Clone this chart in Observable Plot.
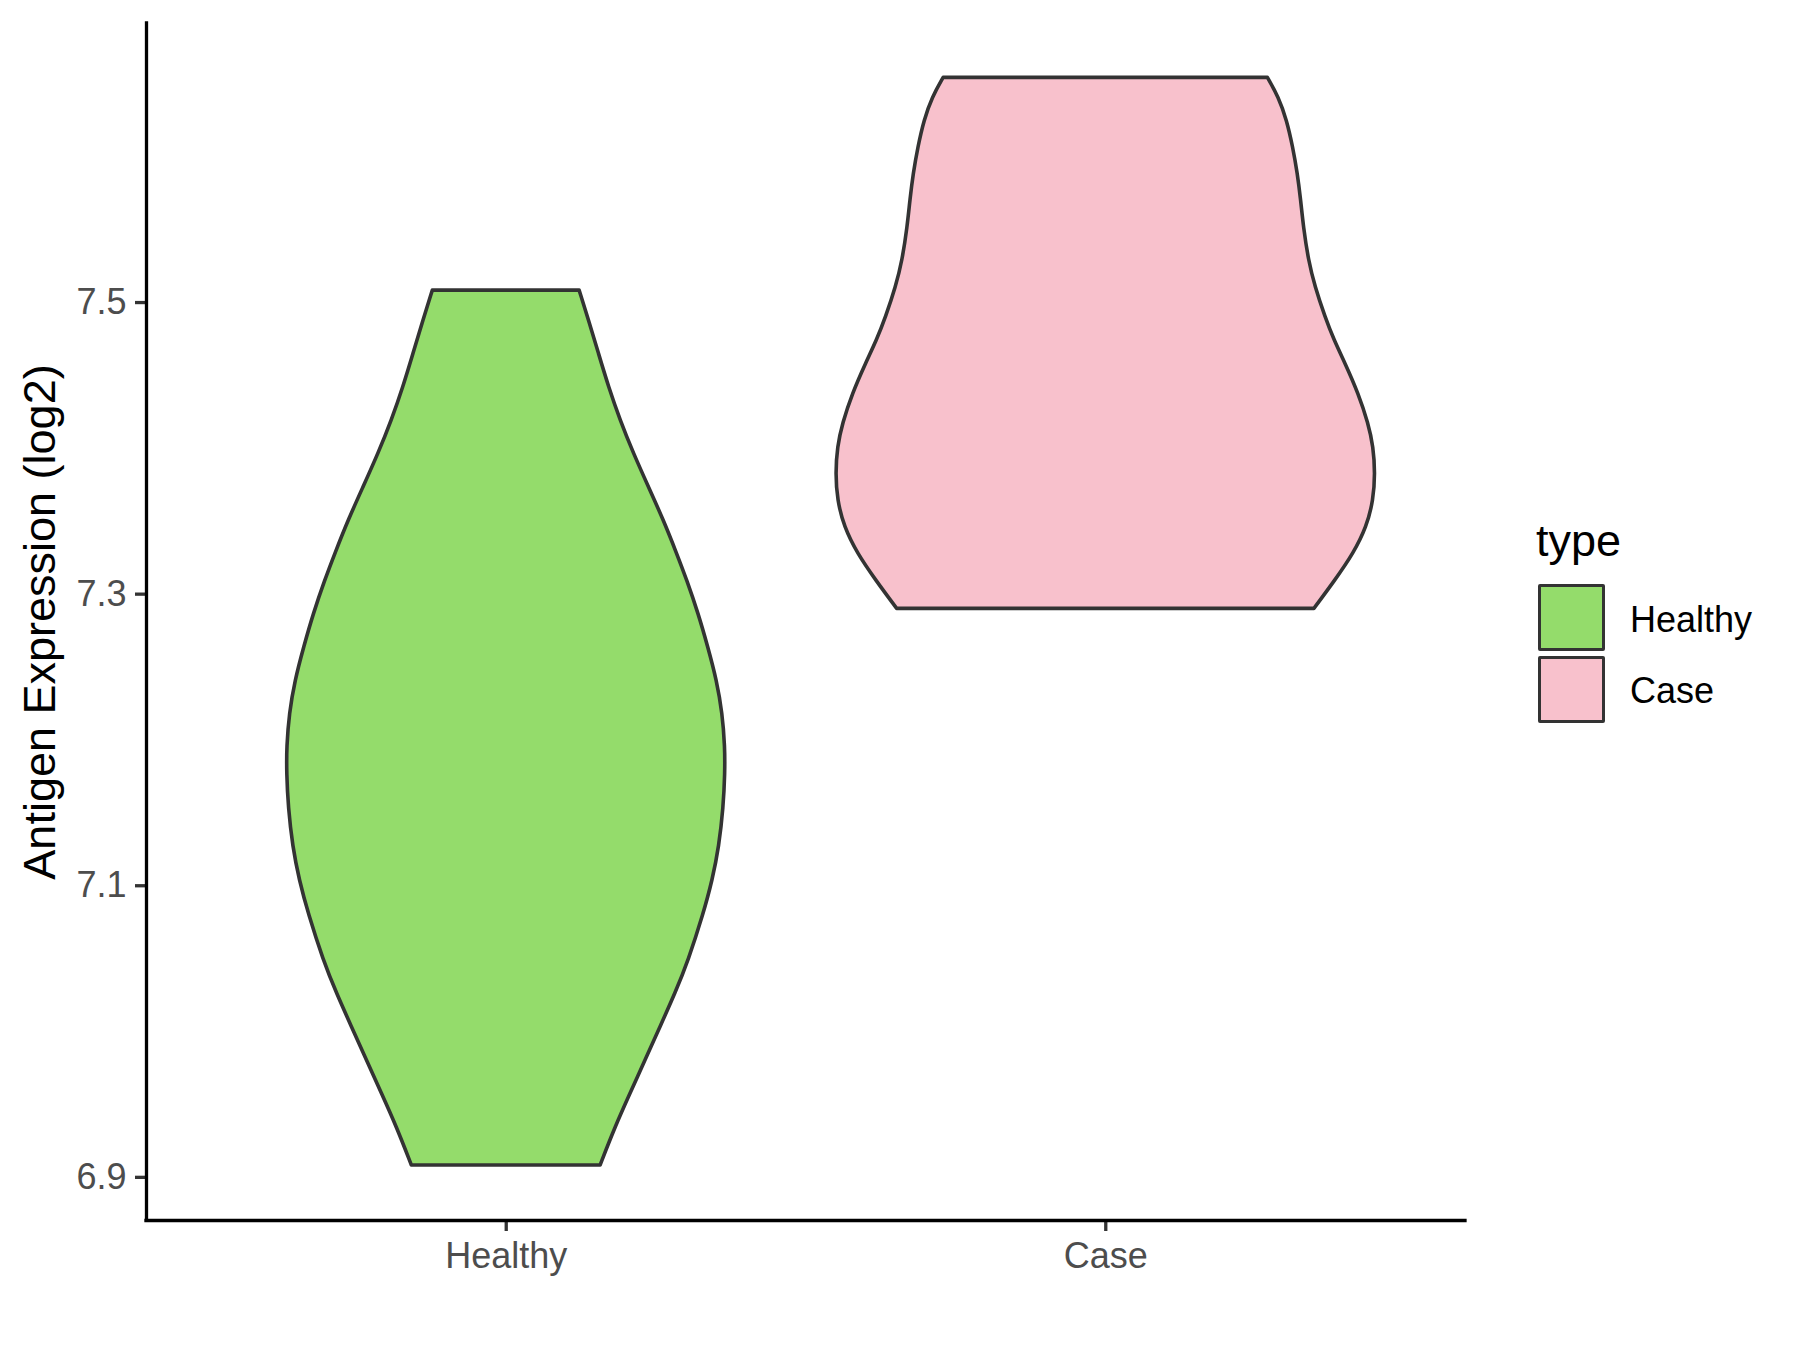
<!DOCTYPE html>
<html>
<head>
<meta charset="utf-8">
<script src="https://cdn.jsdelivr.net/npm/d3@7"></script>
<script src="https://cdn.jsdelivr.net/npm/@observablehq/plot@0.6"></script>
<style>
  body { margin: 0; background: #fff; }
  #wrap { position: relative; width: 1800px; height: 1350px; font-family: "Liberation Sans", Arial, sans-serif; }
  #wrap svg g[aria-label="y-axis tick label"] text,
  #wrap svg g[aria-label="x-axis tick label"] text { fill: #4d4d4d; }
  #wrap svg g[aria-label="y-axis tick"] path,
  #wrap svg g[aria-label="x-axis tick"] path { stroke: #333333; }
  .lg { position: absolute; line-height: 1; white-space: nowrap; }
  .key { position: absolute; width: 67px; height: 67px; box-sizing: border-box; border: 3.5px solid #333333; border-radius: 2px; }
</style>
</head>
<body>
<div id="wrap"></div>
<script>
// ---- data ----
const categories = ["Healthy", "Case"];
const colors = ["#94DC6B", "#F8C1CC"];
const yTicks = [6.9, 7.1, 7.3, 7.5];
const yTitle = "Antigen Expression (log2)";
const legendTitle = "type";

// violin outline: value (log2) and half-width (in category units)
const healthyValue = [7.5082, 7.4877, 7.4648, 7.4419, 7.4191, 7.3962, 7.3733, 7.3505, 7.3276, 7.3093, 7.2865, 7.2636, 7.2407, 7.2179, 7.1950, 7.1767, 7.1538, 7.1264, 7.1036, 7.0807, 7.0487, 7.0259, 7.0030, 6.9801, 6.9573, 6.9344, 6.9081];
const healthyHalfWidth = [0.1224, 0.1380, 0.1547, 0.1714, 0.1907, 0.2130, 0.2380, 0.2630, 0.2851, 0.3020, 0.3210, 0.3370, 0.3517, 0.3612, 0.3655, 0.3655, 0.3629, 0.3555, 0.3445, 0.3296, 0.3046, 0.2823, 0.2573, 0.2323, 0.2073, 0.1823, 0.1574];
const caseValue = [7.6541, 7.6408, 7.6248, 7.6065, 7.5883, 7.5700, 7.5516, 7.5288, 7.5105, 7.4899, 7.4739, 7.4580, 7.4374, 7.4168, 7.4008, 7.3825, 7.3642, 7.3459, 7.3276, 7.3093, 7.2899];
const caseHalfWidth = [0.2704, 0.2888, 0.3026, 0.3126, 0.3204, 0.3259, 0.3304, 0.3387, 0.3497, 0.3664, 0.3815, 0.4000, 0.4220, 0.4386, 0.4470, 0.4500, 0.4470, 0.4358, 0.4137, 0.3830, 0.3480];

const groups = [
  {type: "Healthy", value: healthyValue, hw: healthyHalfWidth},
  {type: "Case", value: caseValue, hw: caseHalfWidth}
];
const rows = [];
groups.forEach((g, gi) => {
  g.value.forEach((v, i) => rows.push({type: g.type, pos: gi + 1, value: v, hw: g.hw[i]}));
});

const xDomain = [0.4, 2.6];
const yDomain = [6.8704, 7.6914];

const chart = Plot.plot({
  width: 1800,
  height: 1350,
  marginLeft: 146,
  marginRight: 335,
  marginTop: 23,
  marginBottom: 130,
  style: {fontFamily: '"Liberation Sans", Arial, sans-serif', background: "#fff"},
  x: {domain: xDomain},
  y: {domain: yDomain},
  color: {domain: categories, range: colors},
  marks: [
    Plot.areaX(rows, {
      x1: d => d.pos - d.hw,
      x2: d => d.pos + d.hw,
      y: "value",
      z: "type",
      fill: "type",
      stroke: "#333333",
      strokeWidth: 3.6,
      strokeLinejoin: "round",
      curve: "basis"
    }),
    Plot.axisY({ticks: yTicks, tickFormat: d3.format(".1f"), tickSize: 11, tickPadding: 9, fontSize: 36, label: null, strokeWidth: 3.3}),
    Plot.axisX({ticks: [1, 2], tickFormat: i => categories[i - 1], tickSize: 11, tickPadding: 11, fontSize: 36, label: null, strokeWidth: 3.3}),
    Plot.ruleX([xDomain[0]], {stroke: "#000", strokeWidth: 3.3, strokeLinecap: "square"}),
    Plot.ruleY([yDomain[0]], {stroke: "#000", strokeWidth: 3.3, strokeLinecap: "square"}),
    Plot.text([yTitle], {frameAnchor: "left", text: d => d, rotate: -90, dx: -106, textAnchor: "middle", fontSize: 45, fill: "#000"})
  ]
});

const wrap = document.getElementById("wrap");
wrap.appendChild(chart);

// legend
function add(cls, css, text) {
  const el = document.createElement("div");
  el.className = cls;
  Object.assign(el.style, css);
  if (text) el.textContent = text;
  wrap.appendChild(el);
}
add("lg", {left: "1536px", top: "540px", fontSize: "45px", color: "#000", transform: "translateY(-50%)"}, legendTitle);
const keyTops = [584, 656];
const labelCenters = [620, 691];
categories.forEach((c, i) => {
  add("key", {left: "1538px", top: keyTops[i] + "px", background: colors[i]});
  add("lg", {left: "1630px", top: labelCenters[i] + "px", fontSize: "36px", color: "#000", transform: "translateY(-50%)"}, c);
});
</script>
</body>
</html>
